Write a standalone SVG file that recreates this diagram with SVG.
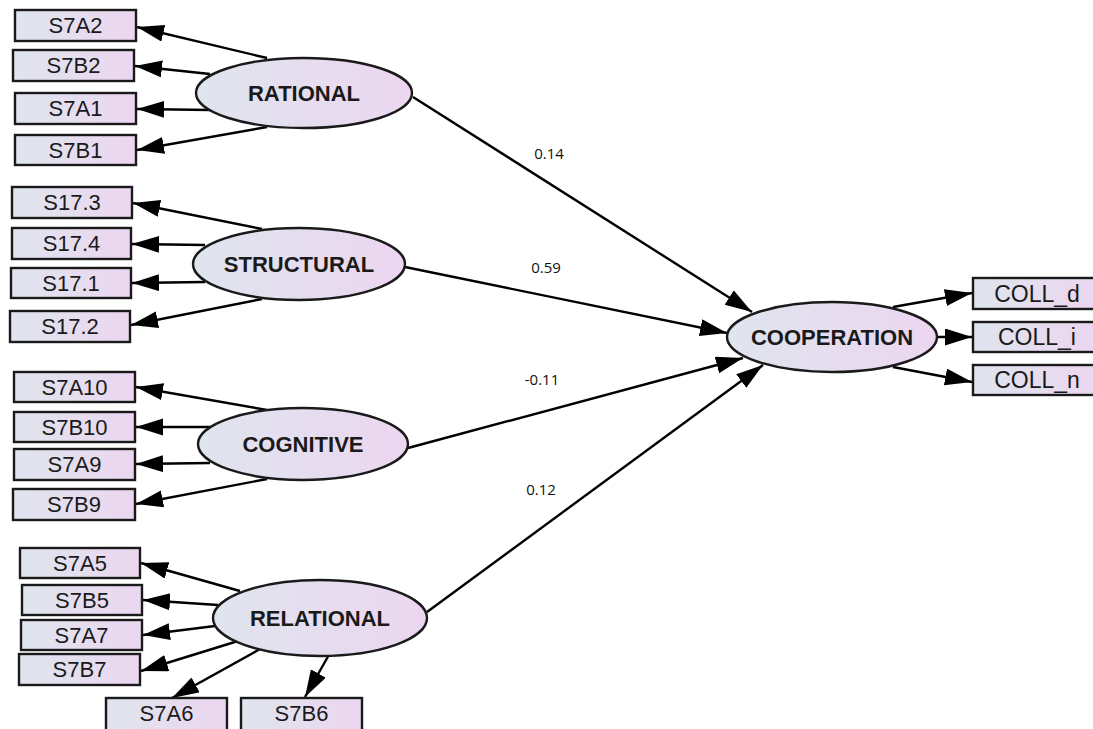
<svg xmlns="http://www.w3.org/2000/svg" width="1093" height="729" viewBox="0 0 1093 729">
<defs>
<linearGradient id="g" x1="0" y1="0" x2="1" y2="0">
<stop offset="0" stop-color="#dfe5ee"/>
<stop offset="1" stop-color="#ecd6f0"/>
</linearGradient>
<marker id="ah" markerUnits="userSpaceOnUse" markerWidth="28" markerHeight="18" refX="27" refY="8.5" orient="auto">
<path d="M0,0 L27,8.5 L0,17 z" fill="#000"/>
</marker>
<style>
.box{fill:url(#g);stroke:#1a1a1a;stroke-width:2.4}
.ell{fill:url(#g);stroke:#1a1a1a;stroke-width:2.4}
.bt{font-family:"Liberation Sans",Arial,sans-serif;font-size:22px;fill:#1a1a1a;text-anchor:middle;dominant-baseline:central}
.ct{font-family:"Liberation Sans",Arial,sans-serif;font-size:23px;fill:#1a1a1a;text-anchor:middle;dominant-baseline:central}
.et{font-family:"Liberation Sans",Arial,sans-serif;font-size:22px;font-weight:bold;fill:#1a1a1a;text-anchor:middle;dominant-baseline:central}
.lbl{font-family:"Open Sans","Noto Sans",sans-serif;font-size:15px;fill:#111;text-anchor:middle}
.c line{stroke:#000;stroke-width:2.4;marker-end:url(#ah)}
</style>
</defs>
<rect width="1093" height="729" fill="#fff"/>

<g id="connectors" class="c">
<line x1="267" y1="58" x2="137" y2="27"/>
<line x1="210" y1="74" x2="135" y2="66"/>
<line x1="210" y1="110" x2="137" y2="109"/>
<line x1="267" y1="127" x2="137" y2="150"/>

<line x1="262" y1="229" x2="133" y2="203"/>
<line x1="205" y1="245" x2="132" y2="244"/>
<line x1="205" y1="282" x2="132" y2="283"/>
<line x1="262" y1="299" x2="131" y2="325"/>

<line x1="267" y1="410" x2="136" y2="387"/>
<line x1="210" y1="427" x2="136" y2="427"/>
<line x1="210" y1="463" x2="136" y2="464"/>
<line x1="267" y1="479" x2="136" y2="504"/>

<line x1="240" y1="591" x2="141" y2="563"/>
<line x1="218" y1="605" x2="143" y2="600"/>
<line x1="215" y1="626" x2="143" y2="635"/>
<line x1="238" y1="641" x2="141" y2="671"/>
<line x1="262" y1="648" x2="172" y2="698"/>
<line x1="330" y1="653" x2="305" y2="697"/>

<line x1="413" y1="97" x2="752" y2="312"/>
<line x1="405" y1="267" x2="727" y2="333"/>
<line x1="408" y1="448" x2="743" y2="358"/>
<line x1="427" y1="612" x2="763" y2="365"/>

<line x1="893" y1="307" x2="972" y2="293"/>
<line x1="937" y1="337" x2="972" y2="337"/>
<line x1="893" y1="367" x2="972" y2="382"/>
</g>

<g id="labels">
<text class="lbl" x="549" y="159">0.14</text>
<text class="lbl" x="546" y="273">0.59</text>
<text class="lbl" x="542" y="385">-0.11</text>
<text class="lbl" x="541" y="495">0.12</text>
</g>

<g id="RATIONAL"><ellipse class="ell" cx="304" cy="93" rx="108" ry="35"/><text class="et" x="304" y="93">RATIONAL</text></g>
<g id="STRUCTURAL"><ellipse class="ell" cx="299" cy="264" rx="106" ry="36"/><text class="et" x="299" y="264">STRUCTURAL</text></g>
<g id="COGNITIVE"><ellipse class="ell" cx="303" cy="444" rx="105" ry="36"/><text class="et" x="303" y="444">COGNITIVE</text></g>
<g id="RELATIONAL"><ellipse class="ell" cx="320" cy="618" rx="107" ry="38"/><text class="et" x="320" y="618">RELATIONAL</text></g>
<g id="COOPERATION"><ellipse class="ell" cx="832" cy="337" rx="105" ry="35"/><text class="et" x="832" y="337">COOPERATION</text></g>

<g id="S7A2"><rect class="box" x="15" y="10" width="121" height="31"/><text class="bt" x="75.5" y="25.5">S7A2</text></g>
<g id="S7B2"><rect class="box" x="13" y="50" width="121" height="31"/><text class="bt" x="73.5" y="65.5">S7B2</text></g>
<g id="S7A1"><rect class="box" x="15" y="93" width="121" height="31"/><text class="bt" x="75.5" y="108.5">S7A1</text></g>
<g id="S7B1"><rect class="box" x="15" y="135" width="121" height="30"/><text class="bt" x="75.5" y="150">S7B1</text></g>

<g id="S17.3"><rect class="box" x="12" y="187" width="120" height="31"/><text class="bt" x="72" y="202.5">S17.3</text></g>
<g id="S17.4"><rect class="box" x="12" y="228" width="119" height="31"/><text class="bt" x="71.5" y="243.5">S17.4</text></g>
<g id="S17.1"><rect class="box" x="11" y="268" width="120" height="30"/><text class="bt" x="71" y="283">S17.1</text></g>
<g id="S17.2"><rect class="box" x="10" y="311" width="120" height="31"/><text class="bt" x="70" y="326.5">S17.2</text></g>

<g id="S7A10"><rect class="box" x="14" y="372" width="121" height="30"/><text class="bt" x="74.5" y="387">S7A10</text></g>
<g id="S7B10"><rect class="box" x="14" y="412" width="121" height="30"/><text class="bt" x="74.5" y="427">S7B10</text></g>
<g id="S7A9"><rect class="box" x="14" y="449" width="121" height="31"/><text class="bt" x="74.5" y="464.5">S7A9</text></g>
<g id="S7B9"><rect class="box" x="13" y="489" width="122" height="31"/><text class="bt" x="74" y="504.5">S7B9</text></g>

<g id="S7A5"><rect class="box" x="20" y="548" width="120" height="30"/><text class="bt" x="80" y="563">S7A5</text></g>
<g id="S7B5"><rect class="box" x="22" y="585" width="120" height="30"/><text class="bt" x="82" y="600">S7B5</text></g>
<g id="S7A7"><rect class="box" x="21" y="620" width="121" height="30"/><text class="bt" x="81.5" y="635">S7A7</text></g>
<g id="S7B7"><rect class="box" x="19" y="654" width="121" height="31"/><text class="bt" x="79.5" y="669.5">S7B7</text></g>
<g id="S7A6"><rect class="box" x="106" y="698" width="121" height="34"/><text class="bt" x="166.5" y="713">S7A6</text></g>
<g id="S7B6"><rect class="box" x="241" y="698" width="121" height="34"/><text class="bt" x="301.5" y="713">S7B6</text></g>

<g id="COLL_d"><rect class="box" x="973" y="278" width="122" height="31"/><text class="ct" x="1037" y="293.5">COLL_d</text></g>
<g id="COLL_i"><rect class="box" x="973" y="322" width="122" height="30"/><text class="ct" x="1037" y="337">COLL_i</text></g>
<g id="COLL_n"><rect class="box" x="973" y="365" width="122" height="30"/><text class="ct" x="1037" y="380">COLL_n</text></g>
</svg>
